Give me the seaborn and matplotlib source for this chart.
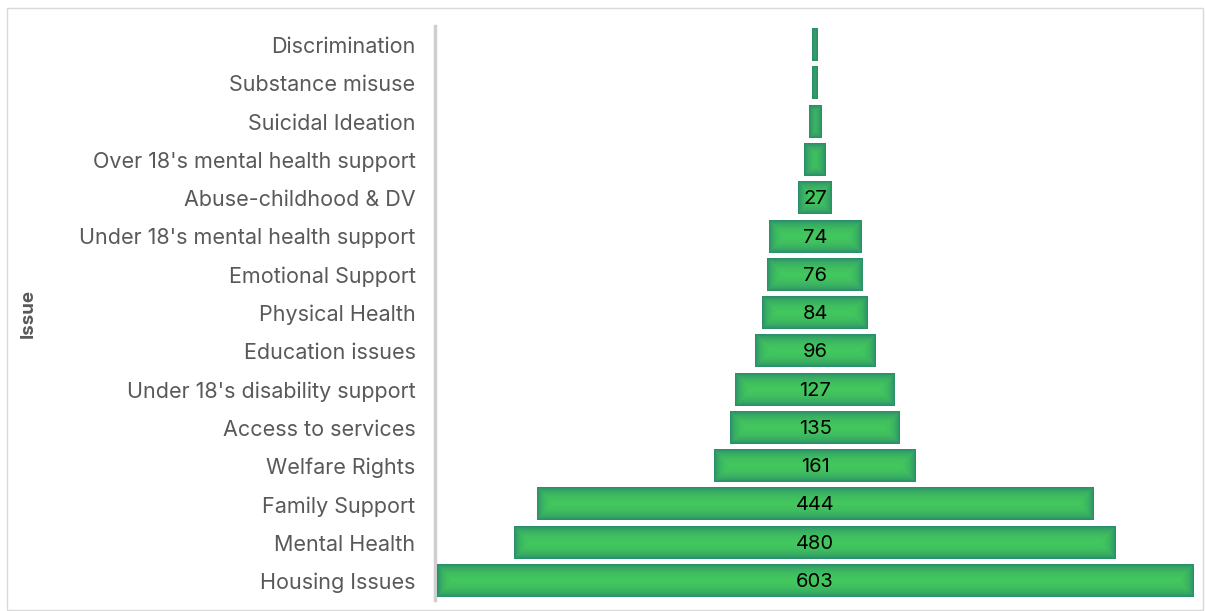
import numpy as np
import pandas as pd
import matplotlib
matplotlib.use("Agg")
import matplotlib.pyplot as plt
import seaborn as sns
from matplotlib.colors import to_rgb
from matplotlib.patches import Rectangle

# Issues, top of the funnel to bottom
issues = [
    "Discrimination",
    "Substance misuse",
    "Suicidal Ideation",
    "Over 18's mental health support",
    "Abuse-childhood & DV",
    "Under 18's mental health support",
    "Emotional Support",
    "Physical Health",
    "Education issues",
    "Under 18's disability support",
    "Access to services",
    "Welfare Rights",
    "Family Support",
    "Mental Health",
    "Housing Issues",
]
counts = [4, 4, 10, 17, 27, 74, 76, 84, 96, 127, 135, 161, 444, 480, 603]

BRIGHT = "#45cd5c"
EDGE = "#237a6e"
BASE = "#5cbb80"
TEXT_GREY = "#595959"

sns.set_theme(style="white")
plt.rcParams["font.family"] = ["Inter", "DejaVu Sans"]

W, H = 1205, 611
fig = plt.figure(figsize=(W / 100, H / 100), dpi=100)
fig.patches.append(Rectangle((7 / W, 1 / H), 1196 / W, 602 / H, transform=fig.transFigure,
                             fill=False, edgecolor="#d9d9d9", linewidth=1.0))

ax_left, ax_right, ax_top, ax_bottom = 435, 1195, 26, 600
ax = fig.add_axes([ax_left / W, 1 - ax_bottom / H, (ax_right - ax_left) / W, (ax_bottom - ax_top) / H])

df = pd.DataFrame({"Issue": issues, "Count": counts})
df["right"] = df["Count"] / 2
df["left"] = -df["Count"] / 2

BAR_H = 0.84
for col in ["right", "left"]:
    sns.barplot(data=df, x=col, y="Issue", order=issues, orient="h", color=BASE,
                saturation=1, width=BAR_H, ax=ax, linewidth=0)

XLIM = (-303, 303)
px_per_x = (ax_right - ax_left) / (XLIM[1] - XLIM[0])
px_per_row = (ax_bottom - ax_top) / len(issues)

# soft inner shading on every bar: bright centre fading to a darker rim
b = np.array(to_rgb(BRIGHT))
e = np.array(to_rgb(EDGE))
for i, v in enumerate(counts):
    nx = max(int(round(v * px_per_x)), 2)
    ny = int(round(BAR_H * px_per_row))
    xs = np.arange(nx) + 0.5
    ys = np.arange(ny) + 0.5
    dx = np.minimum(xs, nx - xs)
    dy = np.minimum(ys, ny - ys)
    d = np.minimum.outer(dy, dx)
    t = 0.8 * np.exp(-d / 6.5)[..., None]
    img = b * (1 - t) + e * t
    ax.imshow(img, extent=(-v / 2, v / 2, i + BAR_H / 2, i - BAR_H / 2),
              aspect="auto", interpolation="bilinear", zorder=3)
    if v >= 20:
        ax.text(0, i + 0.03, str(v), ha="center", va="center", fontsize=14.5,
                color="black", zorder=5)

ax.set_xlim(*XLIM)
ax.set_ylim(len(issues) - 0.5, -0.5)
ax.set_xticks([])
ax.set_xlabel("")
ax.set_ylabel("Issue", fontsize=13.5, fontweight="bold", color=TEXT_GREY)
ax.yaxis.set_label_coords((37 - ax_left) / (ax_right - ax_left), 0.5)
ax.tick_params(axis="y", length=0, pad=14, labelsize=15.5, labelcolor=TEXT_GREY)
for s in ["top", "right", "bottom"]:
    ax.spines[s].set_visible(False)
ax.spines["left"].set_color("#cfcfcf")
ax.spines["left"].set_linewidth(2.5)

fig.savefig("out.png", dpi=100)
